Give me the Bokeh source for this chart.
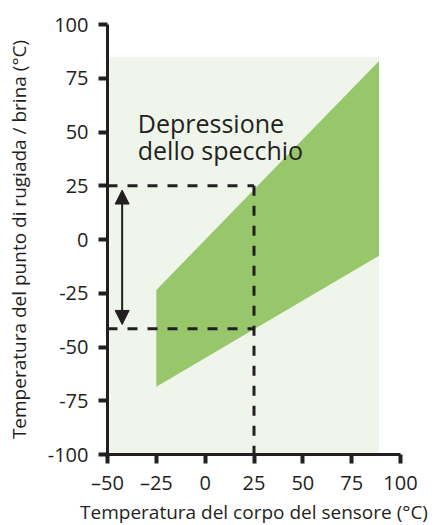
from bokeh.plotting import figure
from bokeh.models import FixedTicker, Arrow, NormalHead, Range1d
from bokeh.core.properties import value
from bokeh.embed import file_html
from bokeh.resources import INLINE

# ---- data ----
x_ticks = [-50, -25, 0, 25, 50, 75, 100]
x_tick_labels = ["\u201350", "\u201325", "0", "25", "50", "75", "100"]
y_ticks = [-100, -75, -50, -25, 0, 25, 50, 75, 100]
y_tick_labels = ["-100", "-75", "-50", "-25", "0", "25", "50", "75", "100"]

# operating area (light background)
area_left, area_right = -50, 89
area_bottom, area_top = -100, 85

# mirror depression band
band_sensor = [-25, 89]
band_upper = [-23.5, 83]
band_lower = [-68.5, -7.5]

# worked example
example_sensor = 25
example_dew = 25
example_min_dew = -41.5
arrow_x = -42.5
arrow_top = 23
arrow_bottom = -39.5

annotation_lines = ["Depressione", "dello specchio"]
annotation_x = -34.5
annotation_y = [54.4, 41.4]

x_label = "Temperatura del corpo del sensore (\u00b0C)"
y_label = "Temperatura del punto di rugiada / brina (\u00b0C)"

# ---- style ----
FONT = "Open Sans"
INK = "#231f20"
LIGHT = "#eff5ea"
GREEN = "#97c66b"

p = figure(
    frame_width=293, frame_height=430,
    x_range=Range1d(-50, 100), y_range=Range1d(-100, 100),
    output_backend="svg", toolbar_location=None,
    min_border_left=107, min_border_right=40,
    min_border_top=24, min_border_bottom=68,
    background_fill_color="white", border_fill_color="white",
)
p.outline_line_color = None
p.xgrid.visible = False
p.ygrid.visible = False

p.quad(left=[area_left], right=[area_right], bottom=[area_bottom], top=[area_top],
       fill_color=LIGHT, line_color=None)
p.varea(x=band_sensor, y1=band_lower, y2=band_upper, fill_color=GREEN)

dash = "10 10"
p.line(x=[area_left, example_sensor], y=[example_dew, example_dew],
       line_color=INK, line_width=3, line_dash=dash)
p.line(x=[area_left, example_sensor], y=[example_min_dew, example_min_dew],
       line_color=INK, line_width=3, line_dash=dash)
p.line(x=[example_sensor, example_sensor], y=[example_dew, area_bottom],
       line_color=INK, line_width=3, line_dash=dash)

p.add_layout(Arrow(
    x_start=arrow_x, y_start=arrow_bottom, x_end=arrow_x, y_end=arrow_top,
    line_color=INK, line_width=2,
    start=NormalHead(size=14, fill_color=INK, line_color=INK),
    end=NormalHead(size=14, fill_color=INK, line_color=INK),
))

p.text(x=[annotation_x] * 2, y=annotation_y, text=annotation_lines,
       text_font=value(FONT), text_font_size="25px", text_color=INK,
       text_baseline="alphabetic", text_align="left")

for ax in (p.xaxis[0], p.yaxis[0]):
    ax.axis_line_color = INK
    ax.axis_line_width = 3
    ax.major_tick_line_color = INK
    ax.major_tick_line_width = 4
    ax.major_tick_out = 9
    ax.major_tick_in = 0
    ax.minor_tick_line_color = None
    ax.major_label_text_font = FONT
    ax.major_label_text_font_size = "20px"
    ax.major_label_text_color = INK
    ax.axis_label_text_font = FONT
    ax.axis_label_text_font_size = "19px"
    ax.axis_label_text_font_style = "normal"
    ax.axis_label_text_color = INK

p.xaxis.ticker = FixedTicker(ticks=x_ticks)
p.yaxis.ticker = FixedTicker(ticks=y_ticks)
p.xaxis.major_label_overrides = dict(zip(x_ticks, x_tick_labels))
p.yaxis.major_label_overrides = dict(zip(y_ticks, y_tick_labels))
p.xaxis.major_label_standoff = 5
p.yaxis.major_label_standoff = 10
p.xaxis.axis_label = x_label
p.yaxis.axis_label = y_label
p.xaxis.axis_label_standoff = 0
p.yaxis.axis_label_standoff = 13

open("out.html", "w").write(file_html(p, INLINE))
